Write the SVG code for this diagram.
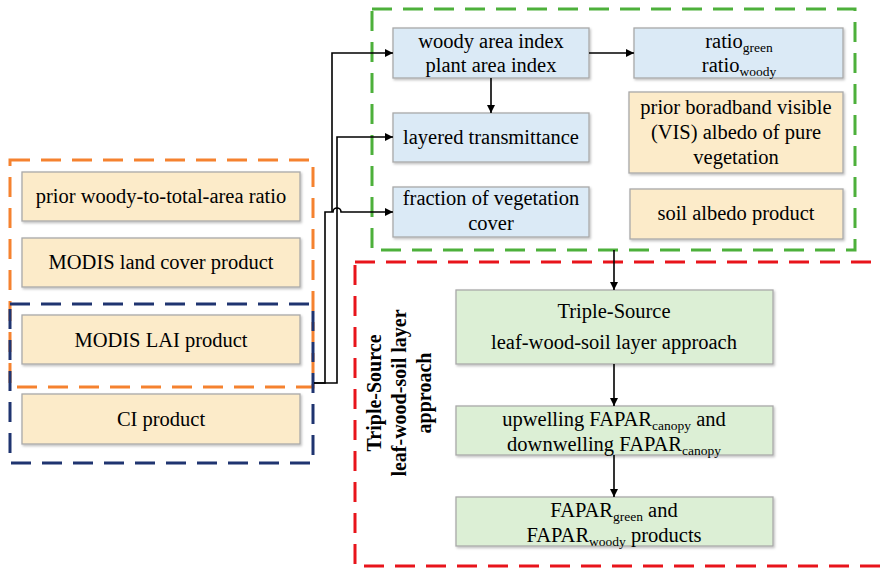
<svg xmlns="http://www.w3.org/2000/svg" width="881" height="569" viewBox="0 0 881 569">
  <defs>
    <marker id="arrow" viewBox="0 0 10 10" refX="10" refY="5" markerWidth="8" markerHeight="8" markerUnits="userSpaceOnUse" orient="auto">
      <path d="M0,0 L10,5 L0,10 Z" fill="#000"/>
    </marker>
    <filter id="shadow" x="-5%" y="-10%" width="112%" height="130%">
      <feDropShadow dx="1.2" dy="1.5" stdDeviation="0.8" flood-color="#000" flood-opacity="0.25"/>
    </filter>
  </defs>
  <style>
    .frame { fill: none; stroke-width: 3; stroke-dasharray: 20 11; }
    .box { stroke: #a9a9a9; stroke-width: 1.3; filter: url(#shadow); }
    .blue { fill: #dbeaf6; }
    .tan { fill: #fcebc9; }
    .green { fill: #dcefd5; }
    text { font-family: "Liberation Serif", "Times New Roman", serif; font-size: 20.5px; fill: #000; text-anchor: middle; }
    .sub { font-size: 13.5px; }
    .vert { font-weight: bold; font-size: 20px; }
    .link { fill: none; stroke: #000; stroke-width: 1.6; }
  </style>

  <rect width="881" height="569" fill="#fff"/>

  <!-- dashed grouping frames -->
  <g id="frames">
    <rect class="frame" x="372" y="9" width="483" height="241" stroke="#4db03b"/>
    <rect class="frame" x="10" y="160" width="303" height="227" stroke="#f5822f"/>
    <rect class="frame" x="10" y="304" width="303" height="159" stroke="#1f3470"/>
    <rect class="frame" x="355" y="262" width="560" height="304" stroke="#e8141b"/>
  </g>

  <!-- input products -->
  <g id="prior-ratio">
    <rect class="box tan" x="22" y="172" width="278" height="49"/>
    <text x="161" y="203">prior woody-to-total-area ratio</text>
  </g>
  <g id="land-cover">
    <rect class="box tan" x="22" y="238" width="278" height="49"/>
    <text x="161" y="269">MODIS land cover product</text>
  </g>
  <g id="lai">
    <rect class="box tan" x="22" y="315" width="278" height="49"/>
    <text x="161" y="347">MODIS LAI product</text>
  </g>
  <g id="ci">
    <rect class="box tan" x="22" y="394" width="278" height="50"/>
    <text x="161" y="426">CI product</text>
  </g>

  <!-- derived structural variables -->
  <g id="area-index">
    <rect class="box blue" x="393" y="28" width="196" height="50"/>
    <text x="491" y="48">woody area index</text>
    <text x="491" y="72">plant area index</text>
  </g>
  <g id="transmittance">
    <rect class="box blue" x="393" y="113" width="196" height="49"/>
    <text x="491" y="144">layered transmittance</text>
  </g>
  <g id="fvc">
    <rect class="box blue" x="393" y="187" width="196" height="50"/>
    <text x="491" y="205">fraction of vegetation</text>
    <text x="491" y="230">cover</text>
  </g>
  <g id="ratios">
    <rect class="box blue" x="634" y="28" width="209" height="50"/>
    <text x="739" y="48">ratio<tspan class="sub" dy="4">green</tspan></text>
    <text x="739" y="72">ratio<tspan class="sub" dy="4">woody</tspan></text>
  </g>
  <g id="vis-albedo">
    <rect class="box tan" x="629" y="92" width="214" height="81"/>
    <text x="736" y="114">prior boradband visible</text>
    <text x="736" y="139">(VIS) albedo of pure</text>
    <text x="736" y="164">vegetation</text>
  </g>
  <g id="soil-albedo">
    <rect class="box tan" x="630" y="189" width="213" height="50"/>
    <text x="736" y="220">soil albedo product</text>
  </g>

  <!-- model and outputs -->
  <g id="model-label">
    <text class="vert" transform="translate(381,393) rotate(-90)">Triple-Source</text>
    <text class="vert" transform="translate(406,393) rotate(-90)">leaf-wood-soil layer</text>
    <text class="vert" transform="translate(431,393) rotate(-90)">approach</text>
  </g>
  <g id="model">
    <rect class="box green" x="456" y="290" width="317" height="74"/>
    <text x="614" y="318">Triple-Source</text>
    <text x="614" y="349">leaf-wood-soil layer approach</text>
  </g>
  <g id="canopy-fapar">
    <rect class="box green" x="456" y="406" width="317" height="49"/>
    <text x="614" y="426">upwelling FAPAR<tspan class="sub" dy="4">canopy</tspan><tspan dy="-4"> and</tspan></text>
    <text x="614" y="451">downwelling FAPAR<tspan class="sub" dy="4">canopy</tspan></text>
  </g>
  <g id="products">
    <rect class="box green" x="456" y="497" width="317" height="49"/>
    <text x="614" y="517">FAPAR<tspan class="sub" dy="4">green</tspan><tspan dy="-4"> and</tspan></text>
    <text x="614" y="542">FAPAR<tspan class="sub" dy="4">woody</tspan><tspan dy="-4"> products</tspan></text>
  </g>

  <!-- connectors -->
  <g id="connectors">
    <path class="link" d="M314,383 H337 V137 H393" marker-end="url(#arrow)"/>
    <path class="link" d="M314,383 H325 V212 H333 A4,4 0 0 1 341,212 H393" marker-end="url(#arrow)"/>
    <path class="link" d="M332,212 V53 H393" marker-end="url(#arrow)"/>
    <path class="link" d="M589,53 H634" marker-end="url(#arrow)"/>
    <path class="link" d="M491,78 V113" marker-end="url(#arrow)"/>
    <path class="link" d="M614,250 V290" marker-end="url(#arrow)"/>
    <path class="link" d="M614,364 V406" marker-end="url(#arrow)"/>
    <path class="link" d="M614,455 V497" marker-end="url(#arrow)"/>
  </g>
</svg>
